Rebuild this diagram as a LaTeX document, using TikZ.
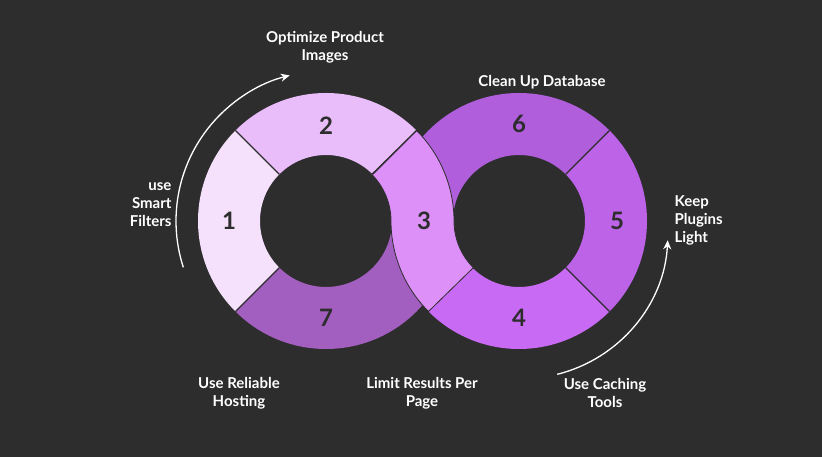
\documentclass[tikz,border=0pt]{standalone}
\usepackage{fontspec}
\setmainfont{Lato}
\usetikzlibrary{calc,arrows.meta}

\definecolor{bg}{HTML}{2D2D2D}
\definecolor{sone}{HTML}{F5E1FB}
\definecolor{stwo}{HTML}{E9BDF9}
\definecolor{sthree}{HTML}{DC90F8}
\definecolor{sfour}{HTML}{C96AF5}
\definecolor{sfive}{HTML}{BC63E8}
\definecolor{ssix}{HTML}{B05EDB}
\definecolor{sseven}{HTML}{A35FC0}

% ring piece: centre, from angle, to angle, colour
\newcommand\ringpiece[4]{%
  \fill[#4] ($(#1)+(#2:128)$) arc (#2:#3:128) -- ($(#1)+(#3:66)$) arc (#3:#2:66) -- cycle;}

\begin{document}
\begin{tikzpicture}
    [x=1pt,y=1pt,%
      label/.style={text=white,font=\bfseries\fontsize{15}{18}\selectfont,align=center},%
      num/.style={text=bg,font=\bfseries\fontsize{24}{26}\selectfont},%
      divider/.style={draw=bg,line width=1.2pt}]
    \fill[bg] (0,0) rectangle (822,457);
    \useasboundingbox (0,0) rectangle (822,457);
    \coordinate (L) at (326,236);
    \coordinate (R) at (519,236);
    % pieces under the crossing
    \ringpiece{L}{135}{225}{sone}
    \ringpiece{L}{45}{135}{stwo}
    \ringpiece{L}{225}{360}{sseven}
    \ringpiece{R}{45}{180}{ssix}
    \ringpiece{R}{-45}{45}{sfive}
    \ringpiece{R}{225}{315}{sfour}
    % crossing piece
    \draw[divider,line width=0.8pt,fill=sthree]
      ($(L)+(45:128)$) arc (45:0:128) arc (180:225:66)
      -- ($(R)+(225:128)$) arc (225:180:128) arc (0:45:66) -- cycle;
    \foreach \a in {45,135,225}
      \draw[divider] ($(L)+(\a:66)$) -- ($(L)+(\a:128)$);
    \foreach \a in {45,-45}
      \draw[divider] ($(R)+(\a:66)$) -- ($(R)+(\a:128)$);
    % numbers
    \node[num] (n1) at (229,236) {1};
    \node[num] (n2) at (326,331) {2};
    \node[num] (n3) at (424,236) {3};
    \node[num] (n4) at (519,139) {4};
    \node[num] (n5) at (617,236) {5};
    \node[num] (n6) at (519,333) {6};
    \node[num] (n7) at (326,139) {7};
    % labels
    \node[label] (t2) at (325,410) {Optimize Product\\Images};
    \node[label] (t6) at (542,375) {Clean Up Database};
    \node[label,align=right,anchor=east] (t1) at (175,252) {use\\Smart\\Filters};
    \node[label,align=left,anchor=west] (t5) at (671,237) {Keep\\Plugins\\Light};
    \node[label] (t7) at (239,64) {Use Reliable\\Hosting};
    \node[label] (t3) at (422,64) {Limit Results Per\\Page};
    \node[label] (t4) at (605,64) {Use Caching\\Tools};
    % arrows
    \draw[white,line width=1.3pt,-{Stealth[length=9pt,width=8pt]}]
      ($(L)+(198:150)$) arc (198:104:150);
    \draw[white,line width=1.3pt,-{Stealth[length=9pt,width=8pt]}]
      ($(R)+(-76:158)$) arc (-76:-3:146);
\end{tikzpicture}
\end{document}
